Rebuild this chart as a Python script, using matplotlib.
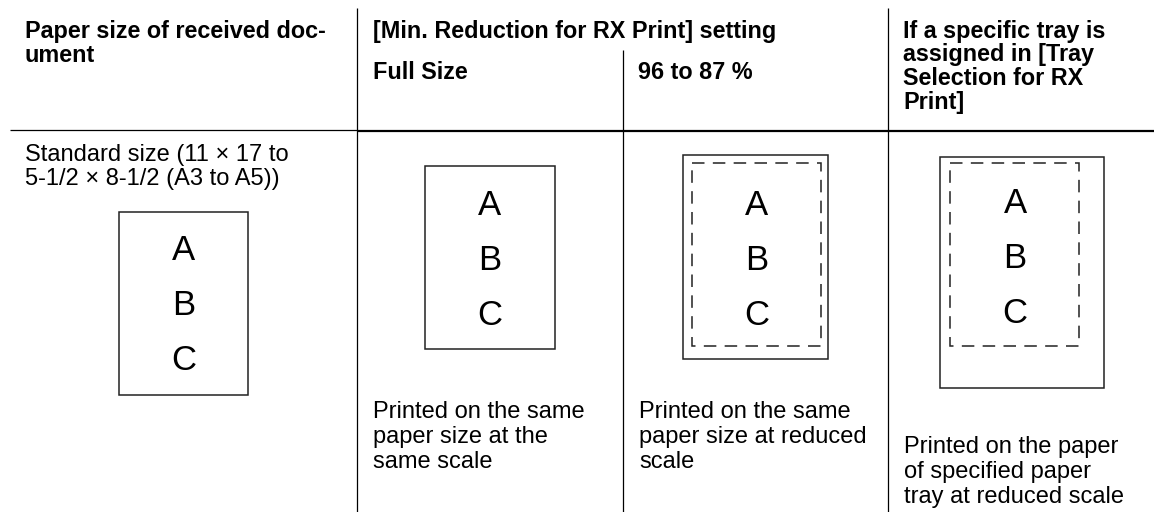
import matplotlib
matplotlib.use("Agg")
import matplotlib.pyplot as plt
from matplotlib.patches import Rectangle

plt.rcParams['font.family'] = ['Liberation Sans', 'DejaVu Sans']
plt.rcParams['lines.scale_dashes'] = False

# ---- content ----
col1_header = ["Paper size of received doc-", "ument"]
group_header = "[Min. Reduction for RX Print] setting"
sub_headers = ["Full Size", "96 to 87 %"]
col4_header = ["If a specific tray is", "assigned in [Tray", "Selection for RX", "Print]"]
row_label = ["Standard size (11 \u00d7 17 to", "5-1/2 \u00d7 8-1/2 (A3 to A5))"]
page_letters = ["A", "B", "C"]
desc_full = ["Printed on the same", "paper size at the", "same scale"]
desc_reduced = ["Printed on the same", "paper size at reduced", "scale"]
desc_tray = ["Printed on the paper", "of specified paper", "tray at reduced scale"]

W, H = 1154, 512
fig = plt.figure(figsize=(W / 100, H / 100), dpi=100)
ax = fig.add_axes([0, 0, 1, 1])
ax.set_xlim(0, W)
ax.set_ylim(H, 0)
ax.axis('off')

INK = '#000000'
BOX = '#222222'
HDR_FS = 16.8
BODY_FS = 17.0
LET_FS = 25

def lines(x, y0, texts, dy, **kw):
    for i, t in enumerate(texts):
        ax.text(x, y0 + i * dy, t, va='baseline', ha='left', color=INK, **kw)

# ---- table grid ----
ax.plot([357, 357], [8, H], color=INK, lw=0.9, solid_capstyle='butt')
ax.plot([888, 888], [8, H], color=INK, lw=0.9, solid_capstyle='butt')
ax.plot([623, 623], [50, H], color=INK, lw=0.9, solid_capstyle='butt')
ax.plot([10, 357], [130, 130], color=INK, lw=0.9, solid_capstyle='butt')
ax.plot([357, W], [131, 131], color=INK, lw=1.6, solid_capstyle='butt')

# ---- headers ----
lines(25, 38, col1_header, 24, fontsize=HDR_FS, fontweight='bold')
ax.text(373, 38, group_header, va='baseline', ha='left', fontsize=HDR_FS, fontweight='bold')
ax.text(373, 79, sub_headers[0], va='baseline', ha='left', fontsize=HDR_FS, fontweight='bold')
ax.text(638, 79, sub_headers[1], va='baseline', ha='left', fontsize=HDR_FS, fontweight='bold')
lines(903, 38, col4_header, 23.5, fontsize=HDR_FS, fontweight='bold')

# ---- row label ----
lines(25, 161, row_label, 24, fontsize=BODY_FS)

# ---- page drawings ----
def page(x0, y0, w, h, dashed=False):
    if dashed:
        r = Rectangle((x0, y0), w, h, fill=False, ec=BOX, lw=1.1,
                      linestyle=(0, (9, 6)))
    else:
        r = Rectangle((x0, y0), w, h, fill=False, ec=BOX, lw=1.1)
    ax.add_patch(r)

def letters(cx, base0, dy=55):
    for i, L in enumerate(page_letters):
        ax.text(cx, base0 + i * dy, L, ha='center', va='baseline',
                fontsize=LET_FS, color=INK)

# original page
page(119, 212, 129, 183)
letters(183.5, 260)

# full size
page(425, 166, 130, 183)
letters(490, 215)

# 96 to 87 %
page(683, 155, 145, 204)
page(692, 163, 129, 183, dashed=True)
letters(756.5, 215)

# tray
page(940, 157, 164, 231)
page(950, 163, 129, 183, dashed=True)
letters(1015, 213)

# ---- descriptions ----
lines(373, 418, desc_full, 25, fontsize=BODY_FS)
lines(639, 418, desc_reduced, 25, fontsize=BODY_FS)
lines(904, 453, desc_tray, 25, fontsize=BODY_FS)

fig.savefig("out.png", dpi=100)
